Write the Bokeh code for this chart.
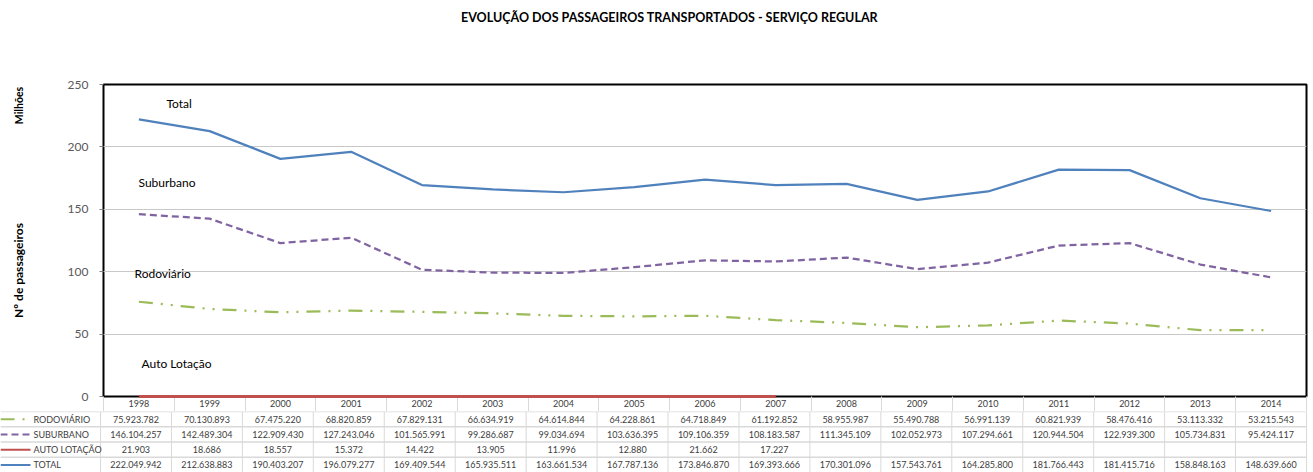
import math
from bokeh.plotting import figure
from bokeh.layouts import column, row
from bokeh.models import Range1d, FixedTicker, Label, ColumnDataSource
from bokeh.core.properties import value
from bokeh.embed import file_html
from bokeh.resources import INLINE

# ---------------- data ----------------
years = list(range(1998, 2015))
rodoviario = [75923782, 70130893, 67475220, 68820859, 67829131, 66634919, 64614844, 64228861,
              64718849, 61192852, 58955987, 55490788, 56991139, 60821939, 58476416, 53113332, 53215543]
suburbano = [146104257, 142489304, 122909430, 127243046, 101565991, 99286687, 99034694, 103636395,
             109106359, 108183587, 111345109, 102052973, 107294661, 120944504, 122939300, 105734831, 95424117]
auto_lotacao = [21903, 18686, 18557, 15372, 14422, 13905, 11996, 12880, 21662, 17227,
                None, None, None, None, None, None, None]
total = [222049942, 212638883, 190403207, 196079277, 169409544, 165935511, 163661534, 167787136,
         173846870, 169393666, 170301096, 157543761, 164285800, 181766443, 181415716, 158848163, 148639660]
y_ticks = [0, 50, 100, 150, 200, 250]

FONT = "Lato"
GREEN, PURPLE, RED, BLUE = "#9bbb59", "#8064a2", "#c0504d", "#4f81bd"
DASH_ROD, DASH_SUB = "14 8 2 8 2 8", "7 4"

def mil(vals):
    return [float("nan") if v is None else v / 1e6 for v in vals]

def fmt(v):
    return "" if v is None else f"{v:,}".replace(",", ".")

W = 1313
TITLE_H = 34
TOP_H = 411 - TITLE_H
SIDE_W = 64          # strip with the rotated axis titles
LEFT = 100           # frame left edge in page pixels
RIGHT = 7
FRAME_TOP, FRAME_BOTTOM = 84, 396

def blank(fig):
    fig.axis.visible = False
    fig.grid.visible = False
    fig.outline_line_color = None
    fig.background_fill_color = "white"
    fig.border_fill_color = "white"

# ---------------- title strip ----------------
tt = figure(width=W, height=TITLE_H, x_range=Range1d(0, W), y_range=Range1d(TITLE_H, 0),
            output_backend="svg", toolbar_location=None,
            min_border_left=0, min_border_right=0, min_border_top=0, min_border_bottom=0)
blank(tt)
tt.text(x=[669], y=[17], text=["EVOLUÇÃO DOS PASSAGEIROS TRANSPORTADOS - SERVIÇO REGULAR"],
        text_align="center", text_baseline="middle", text_font=value(FONT),
        text_font_size="12.5px", text_font_style="bold", text_color="black")

# ---------------- side strip (rotated titles); its frame aligns with the chart frame ----------------
s = figure(width=SIDE_W, height=TOP_H, x_range=Range1d(0, SIDE_W),
           y_range=Range1d(FRAME_BOTTOM, FRAME_TOP),
           output_backend="svg", toolbar_location=None,
           min_border_left=0, min_border_right=0, min_border_top=0, min_border_bottom=0)
blank(s)
s.text(x=[18], y=[105], text=["Milhões"], angle=math.pi / 2, text_align="center",
       text_baseline="middle", text_font=value(FONT), text_font_size="10.5px",
       text_font_style="bold", text_color="black")
s.text(x=[18], y=[270], text=["Nº de passageiros"], angle=math.pi / 2, text_align="center",
       text_baseline="middle", text_font=value(FONT), text_font_size="12px",
       text_font_style="bold", text_color="black")

# ---------------- main chart ----------------
p = figure(width=W - SIDE_W, height=TOP_H, x_range=Range1d(1997.5, 2014.5), y_range=Range1d(0, 250),
           output_backend="svg", toolbar_location=None,
           min_border_left=LEFT - SIDE_W, min_border_right=RIGHT,
           min_border_top=FRAME_TOP - TITLE_H, min_border_bottom=15)
p.background_fill_color = "white"
p.border_fill_color = "white"
p.outline_line_color = "black"
p.outline_line_width = 2
p.xgrid.visible = False
p.ygrid.grid_line_color = "#c8c8c8"
p.ygrid.grid_line_width = 1

yax = p.yaxis[0]
yax.ticker = FixedTicker(ticks=y_ticks)
yax.axis_line_color = None
yax.major_tick_in = 0
yax.major_tick_out = 4
yax.major_tick_line_color = "#7f7f7f"
yax.minor_tick_line_color = None
yax.major_label_text_font = FONT
yax.major_label_text_font_size = "12px"
yax.major_label_text_color = "#595959"
yax.major_label_standoff = 11

xax = p.xaxis[0]
xax.ticker = FixedTicker(ticks=years, minor_ticks=[y - 0.5 for y in years] + [years[-1] + 0.5])
xax.axis_line_color = None
xax.major_tick_line_color = None
xax.major_tick_out = 0
xax.major_tick_in = 0
xax.minor_tick_in = 0
xax.minor_tick_out = 15
xax.minor_tick_line_color = "#d9d9d9"
xax.major_label_text_font = FONT
xax.major_label_text_font_size = "9px"
xax.major_label_text_color = "#404040"
xax.major_label_standoff = -12

p.line(years, mil(total), line_color=BLUE, line_width=2.25)
p.line(years, mil(suburbano), line_color=PURPLE, line_width=2.25, line_dash=DASH_SUB)
p.line(years, mil(rodoviario), line_color=GREEN, line_width=2.25, line_dash=DASH_ROD)
p.line(years, mil(auto_lotacao), line_color=RED, line_width=3, level="overlay")

def lab(txt, x, y):
    p.add_layout(Label(x=x, y=y, x_units="screen", y_units="screen", text=txt,
                       text_font=FONT, text_font_size="12px", text_color="black",
                       text_align="left", text_baseline="middle"))

lab("Total", 63, 293)
lab("Suburbano", 35, 214)
lab("Rodoviário", 31, 123)
lab("Auto Lotação", 38, 33)

# ---------------- data table ----------------
u = (W - LEFT - RIGHT) / 17.0
x0 = 1997.5 - LEFT / u
x1 = x0 + W / u
t = figure(width=W, height=472 - 411, x_range=Range1d(x0, x1), y_range=Range1d(4, 0),
           output_backend="svg", toolbar_location=None,
           min_border_left=0, min_border_right=0, min_border_top=0, min_border_bottom=0)
blank(t)

bounds = [y - 0.5 for y in years] + [years[-1] + 0.5]
t.segment(x0=bounds, y0=[0] * len(bounds), x1=bounds, y1=[4] * len(bounds),
          line_color="#d9d9d9", line_width=1)
t.segment(x0=[x0] * 4, y0=[0, 1, 2, 3], x1=[bounds[-1]] * 4, y1=[0, 1, 2, 3],
          line_color="#d9d9d9", line_width=1.5)

rows = [("RODOVIÁRIO", rodoviario, GREEN, DASH_ROD),
        ("SUBURBANO", suburbano, PURPLE, DASH_SUB),
        ("AUTO LOTAÇÃO", auto_lotacao, RED, "solid"),
        ("TOTAL", total, BLUE, "solid")]
for i, (name, vals, col, dash) in enumerate(rows):
    yc = i + 0.5
    src = ColumnDataSource(dict(x=years, y=[yc] * len(years), s=[fmt(v) for v in vals]))
    t.text(x="x", y="y", text="s", source=src, text_align="center", text_baseline="middle",
           text_font=value(FONT), text_font_size="9px", text_color="#404040")
    t.line([x0, x0 + 30 / u], [yc, yc], line_color=col, line_width=2, line_dash=dash)
    t.text(x=[x0 + 33 / u], y=[yc], text=[name], text_align="left", text_baseline="middle",
           text_font=value(FONT), text_font_size="9px", text_color="#404040")

layout = column(tt, row(s, p, spacing=0), t, spacing=0)
open("out.html", "w").write(file_html(layout, INLINE))
